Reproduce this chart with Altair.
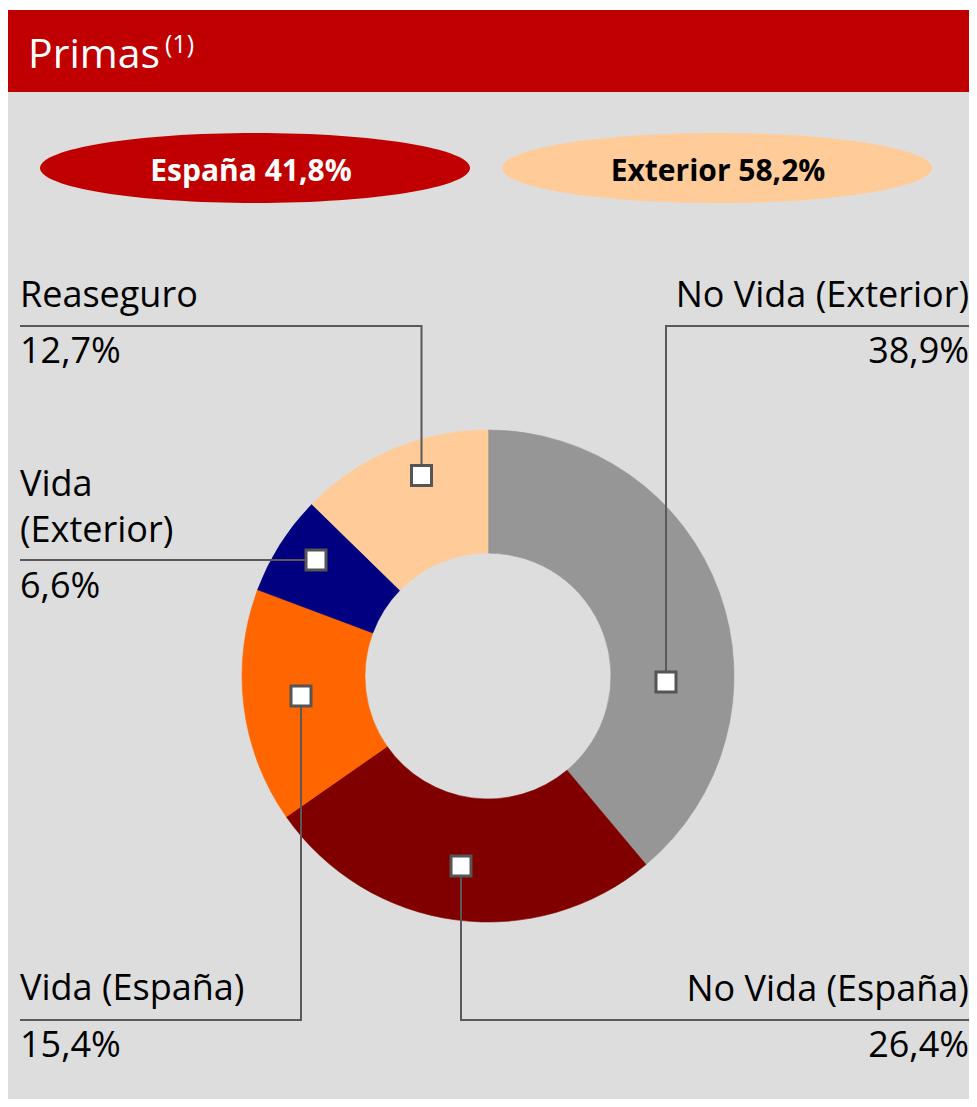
import altair as alt
import pandas as pd

# ---------------- data ----------------
categories = ["No Vida (Exterior)", "No Vida (España)", "Vida (España)", "Vida (Exterior)", "Reaseguro"]
values = [38.9, 26.4, 15.4, 6.6, 12.7]
slice_colors = ["#969696", "#800000", "#FF6600", "#000080", "#FFCC99"]

regions = ["España", "Exterior"]
region_values = [41.8, 58.2]
region_colors = ["#C00000", "#FFCC99"]
region_text_colors = ["#FFFFFF", "#000000"]

title_text = "Primas"
title_note = "(1)"


def pct(v):
    return f"{v:.1f}".replace(".", ",") + "%"


# ---------------- layout ----------------
X0, Y0 = 8, 8
W, H = 961, 1091
XR = X0 + W
CX, CY = 488, 676
R_OUT, R_IN = 246, 123
FONT = "Open Sans"
LINE_COLOR = "#595959"

# callout layout per category: square centre, polyline, label side/x, name lines baselines, pct baseline
callouts = {
    "No Vida (Exterior)": dict(sq=(666, 682), path=[(XR, 326), (666, 326), (666, 682)],
                               side="right", lx=969, names=[("No Vida (Exterior)", 307)], py=363),
    "No Vida (España)": dict(sq=(461, 866), path=[(XR, 1020), (461, 1020), (461, 866)],
                             side="right", lx=969, names=[("No Vida (España)", 1001)], py=1057),
    "Vida (España)": dict(sq=(301, 696), path=[(20, 1020), (301, 1020), (301, 696)],
                          side="left", lx=20, names=[("Vida (España)", 1000)], py=1057),
    "Vida (Exterior)": dict(sq=(316, 560), path=[(20, 560), (316, 560)],
                            side="left", lx=20, names=[("Vida", 496), ("(Exterior)", 542)], py=598),
    "Reaseguro": dict(sq=(421.5, 475.5), path=[(20, 326), (421.5, 326), (421.5, 475.5)],
                      side="left", lx=20, names=[("Reaseguro", 307)], py=363),
}

xs = alt.Scale(domain=[X0, X0 + W], nice=False, zero=False)
ys = alt.Scale(domain=[Y0, Y0 + H], nice=False, zero=False, reverse=True)


def X(f="x"):
    return alt.X(f"{f}:Q", scale=xs, axis=None)


def Y(f="y"):
    return alt.Y(f"{f}:Q", scale=ys, axis=None)


# background panels
bg = pd.DataFrame([
    {"x": 8, "x2": XR, "y": 92, "y2": Y0 + H, "c": "#DDDDDD"},
    {"x": 8, "x2": XR, "y": 10, "y2": 92, "c": "#C00000"},
])
bg_layer = alt.Chart(bg).mark_rect().encode(
    x=X(), x2="x2:Q", y=Y(), y2="y2:Q", color=alt.Color("c:N", scale=None)
)

# title
title_df = pd.DataFrame([
    {"x": 28, "y": 68, "t": title_text, "s": 41},
    {"x": 165, "y": 53, "t": title_note, "s": 25},
])
title_layer = alt.Chart(title_df).mark_text(
    align="left", baseline="alphabetic", font=FONT, color="white"
).encode(x=X(), y=Y(), text="t:N", size=alt.Size("s:Q", scale=None))

# donut
donut_df = pd.DataFrame({"cat": categories, "value": values, "order": list(range(len(categories)))})
color_scale = alt.Scale(domain=categories, range=slice_colors)
donut = alt.Chart(donut_df).mark_arc(radius=R_OUT, radius2=R_IN, strokeWidth=0.6).encode(
    theta=alt.Theta("value:Q", stack=True),
    order=alt.Order("order:Q"),
    color=alt.Color("cat:N", scale=color_scale, legend=None),
    stroke=alt.Stroke("cat:N", scale=color_scale, legend=None),
    x=alt.value(CX - X0),
    y=alt.value(CY - Y0),
)

# region ellipses
k = 0.5523
b = 35 / 215
ELLIPSE = (f"M-1,0 C-1,{-k*b:.4f} {-k:.4f},{-b:.4f} 0,{-b:.4f} "
           f"C{k:.4f},{-b:.4f} 1,{-k*b:.4f} 1,0 "
           f"C1,{k*b:.4f} {k:.4f},{b:.4f} 0,{b:.4f} "
           f"C{-k:.4f},{b:.4f} -1,{k*b:.4f} -1,0 Z")
ell_pos = [(255, 168), (717, 168)]
ell_df = pd.DataFrame({
    "x": [p[0] for p in ell_pos], "y": [p[1] for p in ell_pos],
    "fill": region_colors, "tc": region_text_colors,
    "t": [f"{r} {pct(v)}" for r, v in zip(regions, region_values)],
    "tx": [251, 718], "ty": [181, 181],
})
ellipses = alt.Chart(ell_df).mark_point(
    shape=ELLIPSE, filled=True, size=430 ** 2, opacity=1, strokeWidth=0
).encode(x=X(), y=Y(), fill=alt.Fill("fill:N", scale=None))
ell_text = alt.Chart(ell_df).mark_text(
    align="center", baseline="alphabetic", font=FONT, fontWeight="bold", fontSize=30
).encode(x=X("tx"), y=Y("ty"), text="t:N", color=alt.Color("tc:N", scale=None))

# leader lines
line_rows = []
for cat in categories:
    for i, (px, py) in enumerate(callouts[cat]["path"]):
        line_rows.append({"cat": cat, "i": i, "x": px, "y": py})
lines = alt.Chart(pd.DataFrame(line_rows)).mark_line(
    color=LINE_COLOR, strokeWidth=2, interpolate="linear"
).encode(x=X(), y=Y(), detail="cat:N", order="i:Q")

# squares
sq_df = pd.DataFrame({
    "cat": categories,
    "x": [callouts[c]["sq"][0] for c in categories],
    "y": [callouts[c]["sq"][1] for c in categories],
})
squares = alt.Chart(sq_df).mark_point(
    shape="square", filled=True, fill="white", stroke="#555555", strokeWidth=3, size=400, opacity=1
).encode(x=X(), y=Y())

# labels
lab_rows = []
for cat, v in zip(categories, values):
    c = callouts[cat]
    for name, yy in c["names"]:
        lab_rows.append({"side": c["side"], "x": c["lx"], "y": yy, "t": name})
    lab_rows.append({"side": c["side"], "x": c["lx"], "y": c["py"], "t": pct(v)})
lab_df = pd.DataFrame(lab_rows)
labels_left = alt.Chart(lab_df[lab_df.side == "left"]).mark_text(
    align="left", baseline="alphabetic", font=FONT, fontSize=36, color="black"
).encode(x=X(), y=Y(), text="t:N")
labels_right = alt.Chart(lab_df[lab_df.side == "right"]).mark_text(
    align="right", baseline="alphabetic", font=FONT, fontSize=36, color="black"
).encode(x=X(), y=Y(), text="t:N")

chart = alt.layer(
    bg_layer, title_layer, donut, ellipses, ell_text, lines, squares, labels_left, labels_right
).properties(
    width=W, height=H, padding=0, autosize=alt.AutoSizeParams(type="none"), background="white"
).configure_view(stroke=None)

chart.save("out.html", embed_options={"renderer": "svg", "actions": False})
